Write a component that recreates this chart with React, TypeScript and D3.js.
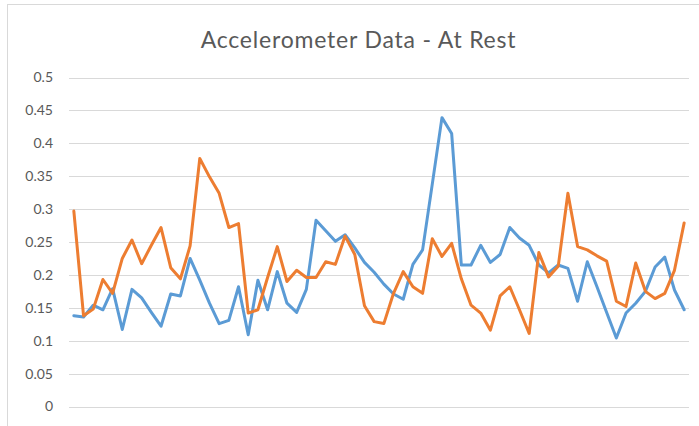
import React from "react";
import * as d3 from "d3";

const title = "Accelerometer Data - At Rest";
const yTicks = [0, 0.05, 0.1, 0.15, 0.2, 0.25, 0.3, 0.35, 0.4, 0.45, 0.5];
const seriesA = [0.138, 0.136, 0.154, 0.147, 0.179, 0.117, 0.178, 0.165, 0.143, 0.122,
  0.171, 0.168, 0.225, 0.192, 0.157, 0.126, 0.131, 0.182, 0.109, 0.192,
  0.147, 0.205, 0.157, 0.143, 0.178, 0.283, 0.267, 0.251, 0.261, 0.241,
  0.219, 0.204, 0.186, 0.171, 0.163, 0.216, 0.238, 0.338, 0.439, 0.415,
  0.215, 0.215, 0.245, 0.219, 0.231, 0.272, 0.256, 0.245, 0.215, 0.203,
  0.215, 0.210, 0.160, 0.220, 0.182, 0.143, 0.104, 0.142, 0.157, 0.175,
  0.212, 0.227, 0.177, 0.147];
const seriesB = [0.297, 0.138, 0.148, 0.193, 0.172, 0.225, 0.253, 0.217, 0.245, 0.272,
  0.211, 0.194, 0.244, 0.377, 0.349, 0.324, 0.272, 0.278, 0.142, 0.147,
  0.196, 0.243, 0.190, 0.207, 0.196, 0.196, 0.220, 0.216, 0.259, 0.231,
  0.153, 0.129, 0.126, 0.172, 0.205, 0.182, 0.172, 0.255, 0.228, 0.248,
  0.194, 0.154, 0.142, 0.116, 0.168, 0.182, 0.147, 0.111, 0.234, 0.197,
  0.213, 0.324, 0.243, 0.238, 0.229, 0.221, 0.160, 0.152, 0.218, 0.175,
  0.164, 0.172, 0.207, 0.279];
const categories = seriesA.map((_, i) => String(i + 1));

const W = 699, H = 426;
const left = 69, right = 689, top = 77.5, bottom = 406.5;

export default function App() {
  const x = d3.scaleBand<string>().domain(categories).range([left, right]);
  const y = d3.scaleLinear().domain([0, 0.5]).range([bottom, top]);
  const cx = (i: number) => (x(categories[i]) as number) + x.bandwidth() / 2;
  const line = d3.line<number>().x((_, i) => cx(i)).y((d) => y(d));
  const font = "Lato, 'Open Sans', sans-serif";
  return (
    <svg width={W} height={H} style={{ position: "absolute", left: 0, top: 0, background: "#fff" }}>
      <rect x={7.5} y={4.5} width={W + 10} height={H + 10} fill="#fff" stroke="#D9D9D9" strokeWidth={1} />
      <text x={358.5} y={48} textAnchor="middle" fontFamily={font} fontSize={23} letterSpacing={0.8} fill="#595959">{title}</text>
      {yTicks.map((t) => (
        <g key={t}>
          <line x1={left} x2={right} y1={Math.round(y(t)) + 0.5} y2={Math.round(y(t)) + 0.5} stroke="#D9D9D9" strokeWidth={1} />
          <text x={53} y={y(t)} dy="0.35em" textAnchor="end" fontFamily={font} fontSize={14} fill="#595959">{String(t)}</text>
        </g>
      ))}
      <path d={line(seriesA) || ""} fill="none" stroke="#5B9BD5" strokeWidth={3} strokeLinejoin="round" strokeLinecap="round" />
      <path d={line(seriesB) || ""} fill="none" stroke="#ED7D31" strokeWidth={3} strokeLinejoin="round" strokeLinecap="round" />
    </svg>
  );
}
